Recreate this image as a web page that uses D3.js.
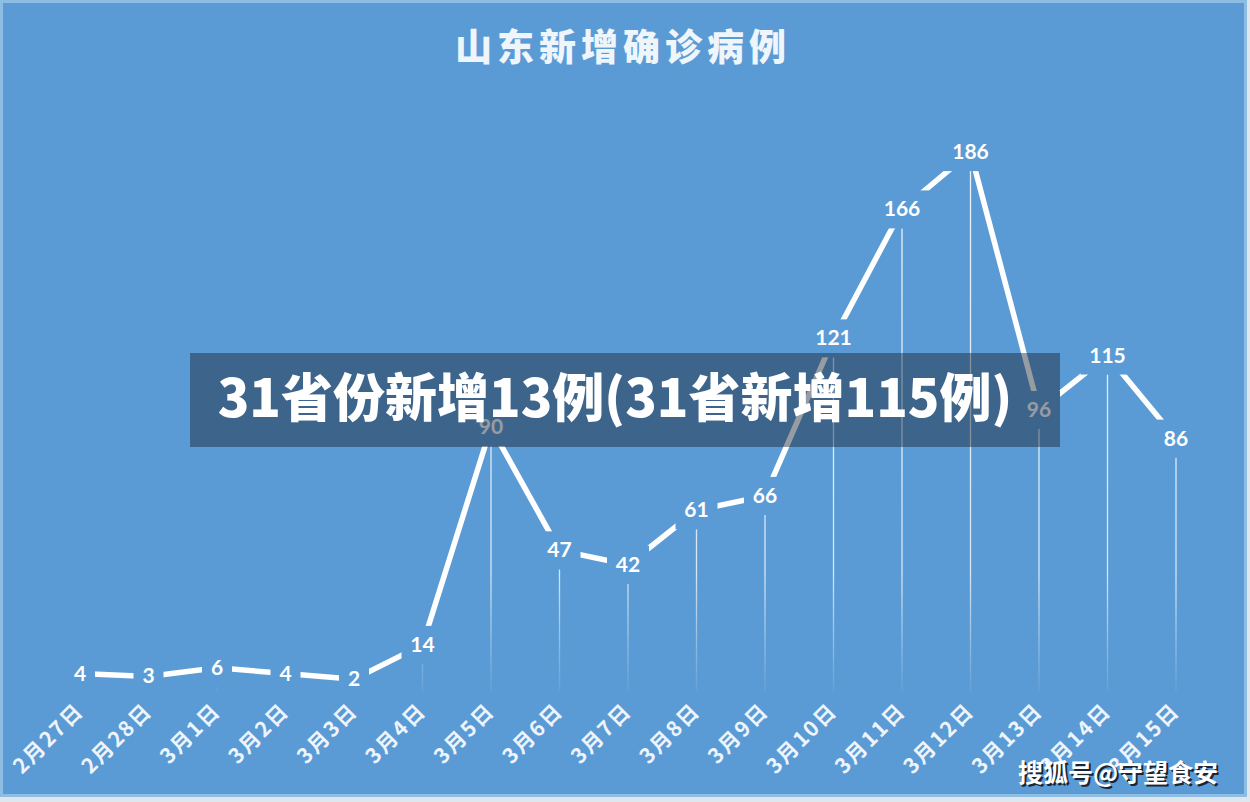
<!DOCTYPE html>
<html>
<head>
<meta charset="utf-8">
<script src="https://cdn.jsdelivr.net/npm/d3@7"></script>
<style>
  html, body { margin: 0; padding: 0; background: #dfe7ee; }
  svg { display: block; }
</style>
</head>
<body>
<div class="board"></div>
<script>
(function() {

  var dates = ['2月27日', '2月28日', '3月1日', '3月2日', '3月3日', '3月4日', '3月5日', '3月6日',
    '3月7日', '3月8日', '3月9日', '3月10日', '3月11日', '3月12日', '3月13日', '3月14日', '3月15日'];
  var cases = [4, 3, 6, 4, 2, 14, 90, 47, 42, 61, 66, 121, 166, 186, 96, 115, 86];

  var title = '山东新增确诊病例';
  var banner = '31省份新增13例(31省新增115例)';
  var watermark = '搜狐号@守望食安';

  var options = { width: 1250, height: 802 };
  var blue = '#5b9bd5';

  var points = dates.map(function(d, i) { return { date: d, value: cases[i] }; });

  var svg = d3.select('.board')
    .append('svg')
    .attr('width', options.width)
    .attr('height', options.height);

  // chart area
  svg.append('rect')
    .attr('x', 1.5).attr('y', 1.5)
    .attr('width', 1244).attr('height', 794)
    .style('fill', blue)
    .style('stroke', '#8dbde2')
    .style('stroke-width', 3);

  var x = d3.scalePoint()
    .domain(dates)
    .range([80, 1176]);

  var y = d3.scaleLinear()
    .domain([0, 200])
    .range([685, 112]);

  // fading drop lines
  var grad = svg.append('defs').append('linearGradient')
    .attr('id', 'dropFade')
    .attr('gradientUnits', 'userSpaceOnUse')
    .attr('x1', 0).attr('y1', 100).attr('x2', 0).attr('y2', 692);
  grad.append('stop').attr('offset', '0').attr('stop-color', '#fff').attr('stop-opacity', 0.9);
  grad.append('stop').attr('offset', '0.8').attr('stop-color', '#fff').attr('stop-opacity', 0.75);
  grad.append('stop').attr('offset', '1').attr('stop-color', '#fff').attr('stop-opacity', 0.05);

  svg.selectAll('.drop')
    .data(points)
    .enter()
    .append('line')
    .attr('class', 'drop')
    .attr('x1', function(d) { return x(d.date); })
    .attr('x2', function(d) { return x(d.date) + 0.01; })
    .attr('y1', function(d) { return y(d.value) + 19; })
    .attr('y2', y(0) + 6)
    .style('stroke', 'url(#dropFade)')
    .style('stroke-width', 1.3);

  var line = d3.line()
    .x(function(d) { return x(d.date); })
    .y(function(d) { return y(d.value); });

  svg.append('path')
    .datum(points)
    .attr('d', line)
    .style('fill', 'none')
    .style('stroke', '#fff')
    .style('stroke-width', 5.5)
    .style('stroke-linejoin', 'miter');

  // value labels sit on blue boxes that cut the line
  var labels = svg.selectAll('.lbl')
    .data(points)
    .enter()
    .append('g')
    .attr('class', 'lbl')
    .attr('transform', function(d) { return 'translate(' + x(d.date) + ',' + y(d.value) + ')'; });

  labels.append('rect')
    .attr('x', function(d) { return -(String(d.value).length * 6 + 9); })
    .attr('y', -19)
    .attr('width', function(d) { return 2 * (String(d.value).length * 6 + 9); })
    .attr('height', 38)
    .style('fill', blue);

  labels.append('text')
    .attr('y', 7)
    .text(function(d) { return d.value; })
    .style('font-family', 'Lato, "Open Sans", sans-serif')
    .style('font-weight', 'bold')
    .style('font-size', '21px')
    .style('fill', '#fff')
    .style('text-anchor', 'middle');

  // rotated date labels
  svg.selectAll('.xlab')
    .data(dates)
    .enter()
    .append('text')
    .attr('class', 'xlab')
    .attr('transform', function(d) { return 'translate(' + (x(d) + 5) + ',712) rotate(-45)'; })
    .text(function(d) { return d; })
    .style('font-family', '"Noto Sans CJK SC", sans-serif')
    .style('font-size', '21px')
    .style('font-weight', 'bold')
    .style('letter-spacing', '2px')
    .style('fill', '#eef4fb')
    .style('text-anchor', 'end');

  svg.append('text')
    .attr('x', 623)
    .attr('y', 61)
    .text(title)
    .style('font-family', '"Noto Sans CJK SC", sans-serif')
    .style('font-size', '37px')
    .style('font-weight', 900)
    .style('letter-spacing', '5px')
    .style('fill', '#eef5fb')
    .style('text-anchor', 'middle');

  // overlay banner
  svg.append('rect')
    .attr('x', 190).attr('y', 353)
    .attr('width', 870).attr('height', 94)
    .style('fill', 'rgba(25,35,50,0.45)');

  svg.append('text')
    .attr('x', 615)
    .attr('y', 417)
    .text(banner)
    .style('font-family', '"Noto Sans CJK SC", sans-serif')
    .style('font-size', '52px')
    .style('font-weight', 900)
    .style('fill', '#fff')
    .style('text-anchor', 'middle');

  // watermark with dark shadow
  [['#1a2530', 2], ['#fff', 0]].forEach(function(s) {
    svg.append('text')
      .attr('x', 1118 + s[1])
      .attr('y', 782 + s[1])
      .text(watermark)
      .style('font-family', '"Noto Sans CJK SC", sans-serif')
      .style('font-size', '25px')
      .style('font-weight', 'bold')
      .style('fill', s[0])
      .style('text-anchor', 'middle');
  });

})();
</script>
</body>
</html>
